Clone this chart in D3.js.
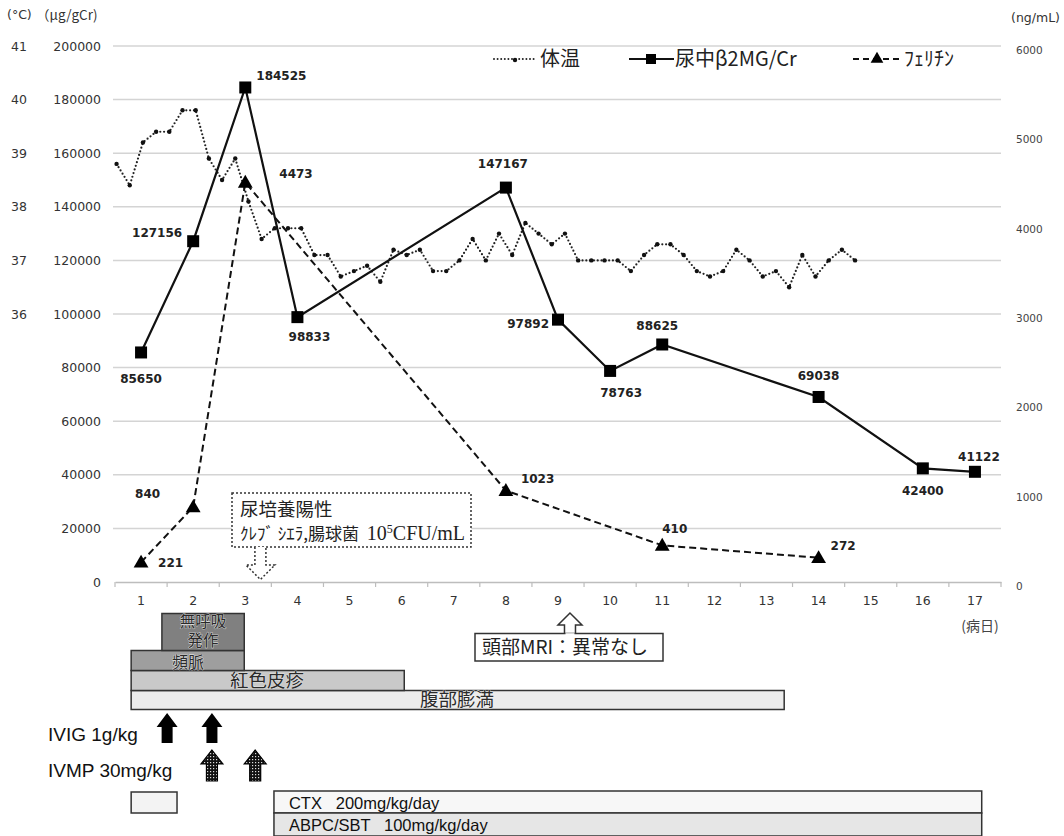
<!DOCTYPE html>
<html><head><meta charset="utf-8">
<script src="https://cdn.jsdelivr.net/npm/d3@7"></script>
<style>
html,body{margin:0;padding:0;background:#fff;}
svg{display:block;}
text{font-family:"DejaVu Sans",sans-serif;}
.cjk{font-family:"Noto Sans CJK JP",sans-serif;}
.cjk2{font-family:"DejaVu Sans","Noto Sans CJK JP",sans-serif;}
.lib{font-family:"Liberation Sans",Arial,sans-serif;}
</style></head>
<body>
<svg id="chart" width="1064" height="836"></svg>
<script>
// ---------- data ----------
const dayLabels = ["1","2","3","4","5","6","7","8","9","10","11","12","13","14","15","16","17"];
const leftTicks = [0,20000,40000,60000,80000,100000,120000,140000,160000,180000,200000];
const tempTicks = [36,37,38,39,40,41];
const rightTicks = [0,1000,2000,3000,4000,5000,6000];

const b2mgDays   = [1,2,3,4,8,9,10,11,14,16,17];
const b2mgValues = [85650,127156,184525,98833,147167,97892,78763,88625,69038,42400,41122];

const ferritinDays   = [1,2,3,8,11,14];
const ferritinValues = [221,840,4473,1023,410,272];

// body temperature, readings every ~6 h starting day 1
const temps = [38.8,38.4,39.2,39.4,39.4,39.8,39.8,38.9,38.5,38.9,38.1,37.4,37.6,37.6,37.6,37.1,37.1,36.7,36.8,36.9,
               36.6,37.2,37.1,37.2,36.8,36.8,37.0,37.4,37.0,37.5,37.1,37.7,37.5,37.3,37.5,37.0,37.0,37.0,37.0,36.8,
               37.1,37.3,37.3,37.1,36.8,36.7,36.8,37.2,37.0,36.7,36.8,36.5,37.1,36.7,37.0,37.2,37.0];
const tempStartDay = 0.53, tempEndDay = 14.7;

const symptomLabels = ["腹部膨満","紅色皮疹","頻脈","無呼吸\n発作"];
const symptomStart  = [0.81,0.81,0.81,1.40];
const symptomEnd    = [13.34,6.05,2.98,2.98];

const ivigDays = [1.5,2.36];
const ivmpDays = [2.36,3.19];

const treatLabels = ["","CTX   200mg/kg/day","ABPC/SBT   100mg/kg/day"];
const treatStart  = [0.81,3.55,3.55];
const treatEnd    = [1.69,17.13,17.13];

const cultureDay = 3.29, mriDay = 9.23;

// ---------- scales ----------
const svg = d3.select("#chart");
const X0 = 115, X1 = 1001, YT = 46, YB = 582;
const xBand = d3.scaleBand().domain(dayLabels).range([X0,X1]).padding(0);
const xc = d => xBand(String(d)) + xBand.bandwidth()/2;
const xd = d3.scaleLinear().domain([0.5,17.5]).range([X0,X1]);
const yL = d3.scaleLinear().domain([0,200000]).range([YB,YT]);
const yT = d3.scaleLinear().domain([31,41]).range([YB,YT]);
const yR = d3.scaleLinear().domain([0,6000]).range([YB,YT]);
const xTemp = d3.scaleLinear().domain([0,temps.length-1]).range([xd(tempStartDay),xd(tempEndDay)]);

// ---------- grid ----------
svg.append("g").selectAll("line").data(leftTicks.filter(v=>v>0)).join("line")
  .attr("x1",113).attr("x2",X1).attr("y1",d=>yL(d)).attr("y2",d=>yL(d))
  .attr("stroke","#d4d4d4").attr("stroke-width",1.5);

// x axis
const xAxis = d3.axisBottom(xBand).tickSize(0).tickPadding(14);
const gx = svg.append("g").attr("transform",`translate(0,${YB})`).call(xAxis);
gx.select(".domain").attr("stroke","#bdbdbd").attr("stroke-width",1.5);
gx.selectAll("text").attr("font-size",12.5).attr("fill","#333").attr("font-family","DejaVu Sans");
svg.append("g").selectAll("line").data(d3.range(dayLabels.length+1)).join("line")
  .attr("x1",i=>X0+i*xBand.bandwidth()).attr("x2",i=>X0+i*xBand.bandwidth())
  .attr("y1",YB).attr("y2",YB+5).attr("stroke","#bdbdbd").attr("stroke-width",1.2);
svg.append("text").attr("class","cjk").attr("x",980).attr("y",631).attr("text-anchor","middle")
  .attr("font-size",14).attr("fill","#444").text("(病日)");

// left axes
const gL = svg.append("g").attr("transform","translate(101,0)")
  .call(d3.axisLeft(yL).tickValues(leftTicks).tickSize(0).tickPadding(0).tickFormat(d3.format("d")));
gL.select(".domain").remove();
gL.selectAll("text").attr("font-size",12.5).attr("fill","#333").attr("font-family","DejaVu Sans");
const gT = svg.append("g").attr("transform","translate(27,0)")
  .call(d3.axisLeft(yT).tickValues(tempTicks).tickSize(0).tickPadding(0).tickFormat(d3.format("d")));
gT.select(".domain").remove();
gT.selectAll("text").attr("font-size",12.5).attr("fill","#333").attr("font-family","DejaVu Sans");
svg.append("text").attr("x",7).attr("y",19).attr("font-size",12.5).attr("fill","#333").text("(°C)");
svg.append("text").attr("class","cjk").attr("x",36).attr("y",20).attr("font-size",13.5).attr("fill","#333").text("（μg/gCr)");

// right axis
const gR = svg.append("g").attr("transform","translate(1016,4)")
  .call(d3.axisRight(yR).tickValues(rightTicks).tickSize(0).tickPadding(0).tickFormat(d3.format("d")));
gR.select(".domain").remove();
gR.selectAll("text").attr("font-size",10.5).attr("fill","#444").attr("font-family","DejaVu Sans");
svg.append("text").attr("x",1060).attr("y",22).attr("text-anchor","end").attr("font-size",12.5)
  .attr("fill","#333").text("(ng/mL)");

// ---------- series ----------
// temperature
const tLine = d3.line().x((d,i)=>xTemp(i)).y(d=>yT(d));
svg.append("path").datum(temps).attr("d",tLine).attr("fill","none").attr("stroke","#222")
  .attr("stroke-width",2.2).attr("stroke-dasharray","0,3.8").attr("stroke-linecap","round");
svg.append("g").selectAll("circle").data(temps).join("circle")
  .attr("cx",(d,i)=>xTemp(i)).attr("cy",d=>yT(d)).attr("r",2.2).attr("fill","#111");

// ferritin
const fData = ferritinDays.map((d,i)=>({d,v:ferritinValues[i]}));
svg.append("path").datum(fData).attr("d",d3.line().x(p=>xc(p.d)).y(p=>yR(p.v)))
  .attr("fill","none").attr("stroke","#111").attr("stroke-width",2).attr("stroke-dasharray","7,4");
const tri = d3.symbol().type(d3.symbolTriangle).size(95);
svg.append("g").selectAll("path").data(fData).join("path")
  .attr("d",tri).attr("transform",p=>`translate(${xc(p.d)},${yR(p.v)+1})`).attr("fill","#000");

// beta2MG
const bData = b2mgDays.map((d,i)=>({d,v:b2mgValues[i]}));
svg.append("path").datum(bData).attr("d",d3.line().x(p=>xc(p.d)).y(p=>yL(p.v)))
  .attr("fill","none").attr("stroke","#111").attr("stroke-width",2.2);
svg.append("g").selectAll("rect").data(bData).join("rect")
  .attr("x",p=>xc(p.d)-6).attr("y",p=>yL(p.v)-6).attr("width",12).attr("height",12).attr("fill","#000");

// data labels (offset dx, dy of centre, anchor)
const bLab = [[0,26,"middle"],[-11,-8,"end"],[11,-12,"start"],[12,20,"middle"],[-3,-24,"middle"],
              [-9,4,"end"],[11,22,"middle"],[-5,-19,"middle"],[0,-21,"middle"],[0,22,"middle"],[4,-15,"middle"]];
svg.append("g").selectAll("text").data(bData).join("text")
  .attr("x",(p,i)=>xc(p.d)+bLab[i][0]).attr("y",(p,i)=>yL(p.v)+bLab[i][1])
  .attr("dy","0.35em").attr("text-anchor",(p,i)=>bLab[i][2])
  .attr("font-size",12).attr("font-weight","bold").attr("fill","#222").text(p=>p.v);
const fLab = [[17,1,"start"],[-33,-13,"end"],[34,-9,"start"],[15,-12,"start"],[0,-17,"start"],[12,-12,"start"]];
svg.append("g").selectAll("text").data(fData).join("text")
  .attr("x",(p,i)=>xc(p.d)+fLab[i][0]).attr("y",(p,i)=>yR(p.v)+fLab[i][1])
  .attr("dy","0.35em").attr("text-anchor",(p,i)=>fLab[i][2])
  .attr("font-size",12).attr("font-weight","bold").attr("fill","#222").text(p=>p.v);

// ---------- legend ----------
const lg = svg.append("g");
const LY = 59;
lg.append("line").attr("x1",494).attr("x2",537).attr("y1",LY).attr("y2",LY).attr("stroke","#222")
  .attr("stroke-width",2).attr("stroke-dasharray","0,3.6").attr("stroke-linecap","round");
lg.append("circle").attr("cx",515).attr("cy",LY+1).attr("r",2.2).attr("fill","#111");
lg.append("text").attr("class","cjk").attr("x",540).attr("y",LY).attr("dy","0.35em").attr("font-size",20).attr("fill","#222").text("体温");
lg.append("line").attr("x1",629).attr("x2",674).attr("y1",LY).attr("y2",LY).attr("stroke","#111").attr("stroke-width",2.2);
lg.append("rect").attr("x",646).attr("y",LY-5).attr("width",10).attr("height",10).attr("fill","#000");
lg.append("text").attr("class","cjk").attr("x",675).attr("y",LY).attr("dy","0.35em").attr("font-size",20).attr("fill","#222").text("尿中β2MG/Cr");
lg.append("line").attr("x1",853).attr("x2",903).attr("y1",LY).attr("y2",LY).attr("stroke","#111")
  .attr("stroke-width",2).attr("stroke-dasharray","6,4");
lg.append("path").attr("d",d3.symbol().type(d3.symbolTriangle).size(70)).attr("transform",`translate(877,${LY})`).attr("fill","#000");
lg.append("text").attr("class","cjk").attr("x",904).attr("y",LY).attr("dy","0.35em").attr("font-size",20).attr("fill","#222").text("ﾌｪﾘﾁﾝ");

// ---------- culture annotation ----------
const ann = svg.append("g");
ann.append("rect").attr("x",232).attr("y",493).attr("width",239).attr("height",54)
  .attr("fill","#fff").attr("stroke","#333").attr("stroke-width",1.5).attr("stroke-dasharray","2,2");
const cx1 = xd(cultureDay);
ann.append("path").attr("d",`M${cx1-5.5},547 V565 H${cx1-14.5} L${cx1},579.5 L${cx1+14.5},565 H${cx1+5.5} V547`)
  .attr("fill","#fff").attr("stroke","#333").attr("stroke-width",1.5).attr("stroke-dasharray","2,2");
ann.append("text").attr("class","cjk").attr("x",240).attr("y",510).attr("dy","0.35em").attr("font-size",18.5).attr("fill","#222").text("尿培養陽性");
const l2 = ann.append("text").attr("x",240).attr("y",534).attr("dy","0.35em").attr("fill","#222");
l2.append("tspan").attr("class","cjk").attr("font-size",17).text("ｸﾚﾌﾞ ｼｴﾗ,腸球菌 ");
l2.append("tspan").attr("font-family","Liberation Serif").attr("font-size",20).attr("dx",4).text("10");
l2.append("tspan").attr("font-family","Liberation Serif").attr("font-size",12).attr("dy",-7).text("5");
l2.append("tspan").attr("font-family","Liberation Serif").attr("font-size",20).attr("dy",7).text("CFU/mL");

// MRI annotation
const cx2 = xd(mriDay);
ann.append("path").attr("d",`M${cx2-5.5},634 V625 H${cx2-12} L${cx2},613 L${cx2+12},625 H${cx2+5.5} V634`)
  .attr("fill","#fff").attr("stroke","#333").attr("stroke-width",1.5);
ann.append("rect").attr("x",475).attr("y",633.5).attr("width",188).attr("height",27.5)
  .attr("fill","#fff").attr("stroke","#333").attr("stroke-width",1.5);
ann.append("path").attr("d",`M${cx2-4.5},634.2 H${cx2+4.5}`).attr("stroke","#fff").attr("stroke-width",2);
ann.append("text").attr("class","cjk").attr("x",482).attr("y",647.5).attr("dy","0.35em").attr("font-size",19).attr("fill","#222").text("頭部MRI：異常なし");

// ---------- symptom bars ----------
const symY = [[690.5,709.5],[670.5,690.5],[650.5,670.5],[613.5,650.5]];
const symFill = ["#ececec","#c9c9c9","#9e9e9e","#808080"];
const symTextX = [457,267,188,203];
const symFont = [18.5,18.5,16,15.5];
const symShift = [0,0,1.5,-1];
const sg = svg.append("g");
symptomLabels.forEach((lab,i)=>{
  sg.append("rect").attr("x",xd(symptomStart[i])).attr("y",symY[i][0])
    .attr("width",xd(symptomEnd[i])-xd(symptomStart[i])).attr("height",symY[i][1]-symY[i][0])
    .attr("fill",symFill[i]).attr("stroke","#333").attr("stroke-width",1.5);
  const lines = lab.split("\n");
  const mid = (symY[i][0]+symY[i][1])/2 + symShift[i];
  lines.forEach((ln,j)=>{
    sg.append("text").attr("class",lines.length>1?"cjk2":"cjk").attr("x",symTextX[i])
      .attr("y",mid+(j-(lines.length-1)/2)*18.2)
      .attr("dy","0.35em").attr("text-anchor","middle").attr("font-size",symFont[i])
      .attr("fill","#2a2a2a").attr("stroke","#f4f4f4").attr("stroke-width",0.6).attr("paint-order","stroke").text(ln);
  });
});

// ---------- treatments ----------
const tg = svg.append("g");
tg.append("text").attr("class","lib").attr("x",48).attr("y",734).attr("dy","0.35em").attr("font-size",19).attr("fill","#111").text("IVIG 1g/kg");
tg.append("text").attr("class","lib").attr("x",48).attr("y",770).attr("dy","0.35em").attr("font-size",19).attr("fill","#111").text("IVMP 30mg/kg");
const defs = svg.append("defs");
const pat = defs.append("pattern").attr("id","hatch").attr("patternUnits","userSpaceOnUse").attr("width",3).attr("height",3);
pat.append("rect").attr("width",3).attr("height",3).attr("fill","#111");
pat.append("rect").attr("width",1.2).attr("height",1.2).attr("fill","#ddd");
const upArrow = (cx,top,bot,hw,sw,hb)=>`M${cx},${top} L${cx+hw},${hb} H${cx+sw} V${bot} H${cx-sw} V${hb} H${cx-hw} Z`;
tg.selectAll(".ivig").data(ivigDays).join("path").attr("class","ivig")
  .attr("d",d=>upArrow(xd(d),713,743,10.5,5.5,727)).attr("fill","#000");
tg.selectAll(".ivmp").data(ivmpDays).join("path").attr("class","ivmp")
  .attr("d",d=>upArrow(xd(d),750,781,11,5.5,764)).attr("fill","url(#hatch)").attr("stroke","#000").attr("stroke-width",1.2);
const trY = [[792,813],[791,813],[813,836]];
const trFill = ["#f3f3f3","#f7f7f7","#e6e6e6"];
treatLabels.forEach((lab,i)=>{
  tg.append("rect").attr("x",xd(treatStart[i])).attr("y",trY[i][0])
    .attr("width",xd(treatEnd[i])-xd(treatStart[i])).attr("height",trY[i][1]-trY[i][0])
    .attr("fill",trFill[i]).attr("stroke","#333").attr("stroke-width",1.5);
  if(lab) tg.append("text").attr("class","lib").attr("x",xd(treatStart[i])+15).attr("y",(trY[i][0]+trY[i][1])/2+1)
    .attr("dy","0.35em").attr("font-size",16.5).attr("fill","#111").style("white-space","pre").text(lab);
});
</script>
</body></html>
